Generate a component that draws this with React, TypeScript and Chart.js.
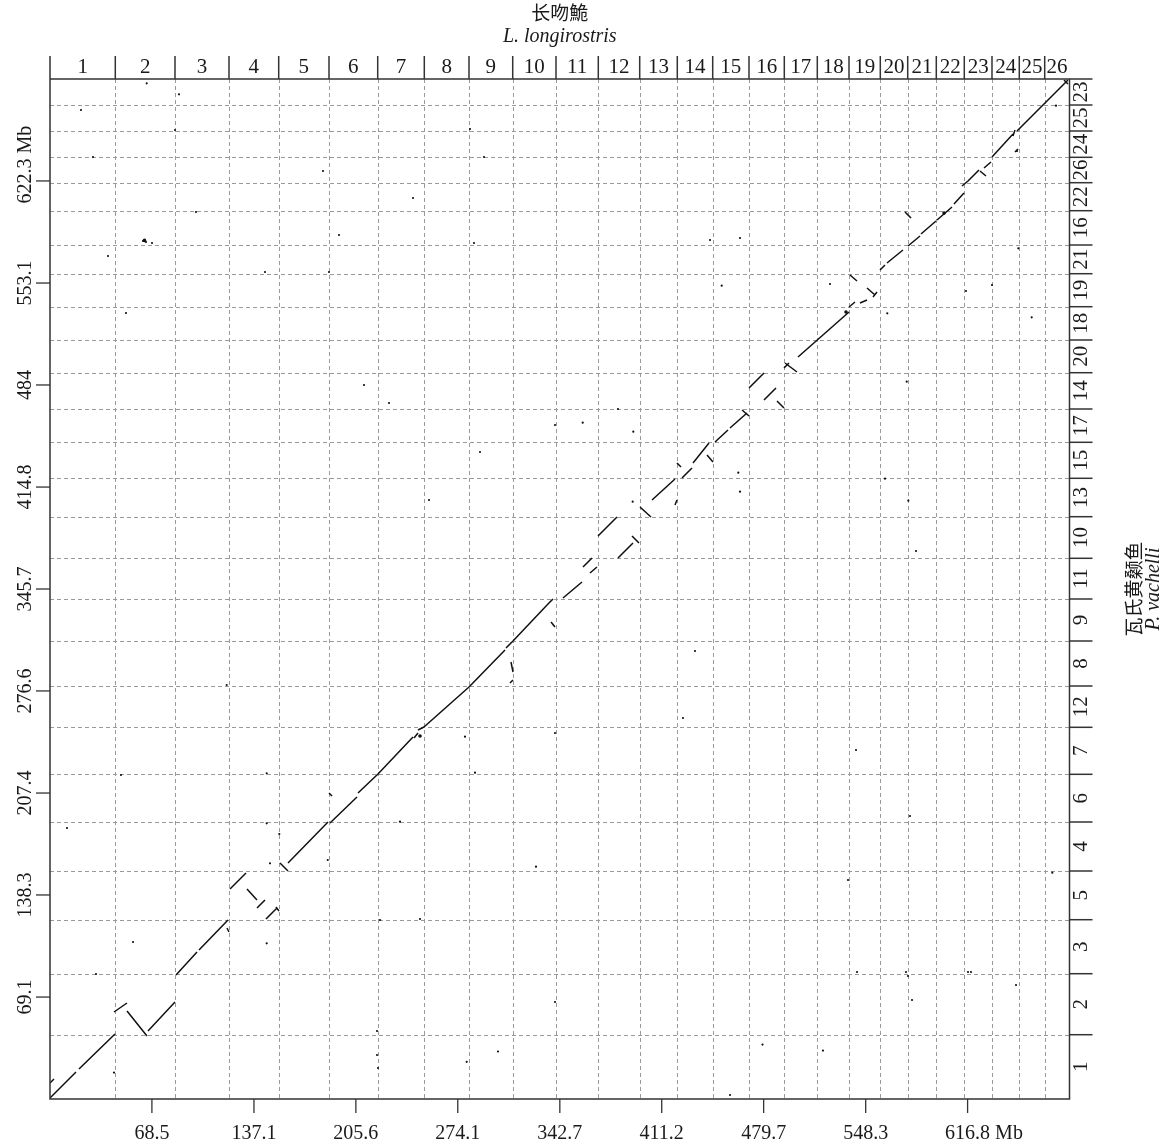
import React, { useEffect, useRef } from "react";
import { Chart, registerables } from "chart.js";

Chart.register(...registerables);

// ---- axis totals (Mb) ----
const X_TOTAL = 685.3;
const Y_TOTAL = 691.4;

// ---- L. longirostris chromosomes (x, top axis) ----
const xChromNames = ["1","2","3","4","5","6","7","8","9","10","11","12","13","14","15","16","17","18","19","20","21","22","23","24","25","26"];
const xChromBounds = [0, 43.89, 84.02, 120.32, 153.73, 187.54, 220.28, 251.6, 281.65, 311.03, 340.13, 368.56, 396.39, 421.66, 445.46, 469.86, 493.59, 515.77, 537.08, 558.12, 576.54, 595.76, 614.58, 633.2, 651.55, 668.63, 685.3];

// ---- P. vachelli chromosomes (y, right axis, bottom to top) ----
const yChromNames = ["1","2","3","5","4","6","7","12","8","9","11","10","13","15","17","14","20","18","19","21","16","22","26","24","25","23"];
const yChromBounds = [0, 43.58, 84.93, 121.54, 154.55, 187.76, 220.09, 251.95, 279.95, 310.45, 338.92, 366.51, 394.71, 420.74, 445.14, 467.71, 492.31, 514.48, 537.05, 559.42, 578.88, 602.13, 621.11, 638.32, 656.15, 673.77, 691.4];

// ---- position ticks (Mb) ----
const xTicks = [68.5, 137.1, 205.6, 274.1, 342.7, 411.2, 479.7, 548.3, 616.8];
const xTickLabels = ["68.5", "137.1", "205.6", "274.1", "342.7", "411.2", "479.7", "548.3", "616.8"];
const yTicks = [69.1, 138.3, 207.4, 276.6, 345.7, 414.8, 484.0, 553.1, 622.3];
const yTickLabels = ["69.1", "138.3", "207.4", "276.6", "345.7", "414.8", "484", "553.1", "622.3"];

// ---- syntenic blocks: [x1, y1, x2, y2] in Mb ----
const blocks: number[][] = [
  [0, 0.68, 17.48, 18.3],
  [19.49, 20.34, 43.69, 44.06],
  [0, 10.85, 2.69, 13.56],
  [43.02, 58.97, 51.76, 65.07],
  [51.76, 59.65, 65.2, 42.7],
  [65.87, 46.09, 84.02, 65.75],
  [84.7, 84.05, 98.81, 99.64],
  [100.16, 101.0, 119.65, 121.33],
  [118.98, 115.91, 120.32, 113.2],
  [121.0, 142.35, 131.75, 153.19],
  [132.42, 142.35, 139.14, 134.89],
  [139.14, 129.47, 144.52, 134.89],
  [145.19, 122.01, 152.59, 129.47],
  [151.91, 130.15, 153.93, 127.43],
  [154.6, 159.97, 159.98, 154.55],
  [159.98, 159.97, 186.87, 187.76],
  [187.54, 207.42, 189.56, 205.39],
  [188.21, 187.08, 206.36, 204.71],
  [207.03, 207.42, 220.48, 220.3],
  [220.48, 220.3, 244.0, 245.38],
  [244.68, 244.7, 247.37, 248.09],
  [247.37, 250.12, 251.4, 252.16],
  [251.4, 252.16, 281.65, 279.27],
  [281.65, 279.27, 305.85, 304.35],
  [306.52, 305.71, 311.22, 310.45],
  [309.21, 281.98, 311.22, 284.02],
  [309.88, 296.22, 311.22, 289.44],
  [311.22, 310.45, 334.75, 335.53],
  [334.75, 335.53, 338.11, 338.92],
  [336.77, 323.33, 339.45, 319.94],
  [344.83, 339.6, 357.61, 350.44],
  [358.28, 360.61, 364.33, 366.71],
  [362.98, 356.54, 367.69, 360.61],
  [368.36, 381.62, 381.13, 394.5],
  [381.8, 366.71, 391.89, 376.88],
  [391.21, 381.62, 395.92, 376.88],
  [396.59, 401.28, 403.99, 394.5],
  [404.66, 406.03, 420.12, 420.26],
  [420.12, 402.64, 421.46, 406.03],
  [424.82, 420.94, 431.55, 427.72],
  [432.22, 431.11, 442.97, 444.66],
  [421.46, 431.11, 424.15, 428.4],
  [441.63, 436.53, 445.66, 431.78],
  [447.01, 445.34, 455.74, 453.48],
  [457.09, 454.83, 468.52, 465.0],
  [465.16, 467.03, 469.86, 462.97],
  [469.86, 481.94, 479.94, 492.11],
  [479.94, 473.81, 488.01, 481.94],
  [488.68, 473.13, 493.38, 468.39],
  [494.06, 498.89, 502.13, 492.79],
  [493.38, 495.5, 496.75, 498.89],
  [502.8, 502.96, 537.08, 533.46],
  [537.08, 536.85, 541.12, 540.24],
  [544.47, 539.56, 549.18, 541.59],
  [549.18, 549.73, 554.55, 544.98],
  [553.21, 543.63, 555.9, 547.02],
  [537.75, 558.54, 542.46, 554.47],
  [557.92, 561.93, 561.28, 565.32],
  [562.62, 566.67, 573.37, 575.49],
  [576.74, 578.2, 584.81, 584.98],
  [585.48, 586.33, 595.56, 595.14],
  [574.72, 601.24, 578.76, 597.18],
  [596.23, 595.82, 606.32, 604.63],
  [607.66, 606.67, 614.37, 614.12],
  [613.04, 618.87, 617.07, 622.26],
  [617.07, 622.26, 624.46, 629.71],
  [625.13, 629.04, 629.17, 625.65],
  [627.83, 631.07, 632.53, 635.14],
  [633.2, 638.53, 647.32, 654.12],
  [647.32, 652.76, 648.66, 656.83],
  [648.66, 641.92, 650.68, 643.95],
  [650.01, 656.15, 684.28, 690.72],
  [681.6, 690.72, 684.28, 688.01],
];

// ---- scattered hits: [x, y] in Mb ----
const hits: number[][] = [
  [65.0, 688.5], [86.71, 681.0], [145.66, 220.77], [145.66, 186.88], [147.88, 159.77],
  [145.66, 105.54], [154.13, 179.63], [186.67, 162.0], [235.27, 187.97], [221.82, 121.33],
  [248.71, 122.01], [278.96, 245.58], [285.68, 221.18], [326.68, 157.46], [339.46, 248.09],
  [118.78, 280.63], [451.51, 551.29], [524.31, 552.44], [562.83, 532.58], [358.08, 458.42],
  [392.09, 452.32], [462.67, 424.53], [463.81, 411.65], [391.68, 404.87], [561.28, 420.46],
  [576.95, 405.55], [582.12, 371.46], [575.87, 486.21], [381.8, 467.71], [673.74, 153.4],
  [649.34, 77.27], [676.22, 673.3], [659.89, 529.87], [650.89, 576.64], [301.14, 32.2],
  [280.1, 25.22], [43.02, 17.9], [478.94, 36.87], [519.6, 32.81], [457.09, 2.71],
  [20.84, 670.38], [84.02, 656.83], [28.9, 638.53], [38.99, 571.42], [62.51, 581.59],
  [64.53, 580.91], [68.56, 580.23], [51.09, 532.78], [98.14, 601.24], [144.52, 560.57],
  [187.54, 560.57], [183.51, 629.04], [244.0, 610.73], [194.26, 585.65], [285.01, 580.23],
  [291.73, 638.53], [282.32, 657.5], [227.87, 471.78], [211.07, 483.98], [254.76, 406.03],
  [289.04, 438.56], [339.46, 456.86], [443.65, 582.26], [463.81, 583.62], [615.73, 547.7],
  [633.2, 551.76], [433.56, 303.67], [425.5, 258.26], [541.79, 236.57], [578.08, 191.83],
  [536.41, 148.45], [542.46, 86.09], [575.39, 86.09], [576.74, 83.37], [579.43, 67.11],
  [617.07, 86.09], [619.09, 86.09], [339.46, 65.75], [219.81, 46.09], [30.92, 84.73],
  [55.79, 106.42], [11.43, 183.69], [47.73, 219.62], [219.81, 29.82], [220.48, 21.01],
  [650.0, 642.59],
];

// larger hits
const bigHits: number[][] = [
  [535.06, 533.46], [248.71, 246.06], [63.5, 582.0], [601.0, 600.5],
];

const SERIF = "'Liberation Serif', 'DejaVu Serif', serif";
const CJK = "'Noto Sans CJK SC', 'Noto Sans CJK JP', sans-serif";

const framePlugin = {
  id: "frame",
  beforeDatasetsDraw(chart: any) {
    const { ctx, chartArea: a } = chart;
    const xs = chart.scales.x;
    const ys = chart.scales.y;
    ctx.save();
    ctx.strokeStyle = "#9a9a9a";
    ctx.lineWidth = 1;
    ctx.setLineDash([4, 3]);
    for (let i = 1; i < xChromBounds.length - 1; i++) {
      const px = Math.round(xs.getPixelForValue(xChromBounds[i])) + 0.5;
      ctx.beginPath();
      ctx.moveTo(px, a.top);
      ctx.lineTo(px, a.bottom);
      ctx.stroke();
    }
    for (let i = 1; i < yChromBounds.length - 1; i++) {
      const py = Math.round(ys.getPixelForValue(yChromBounds[i])) + 0.5;
      ctx.beginPath();
      ctx.moveTo(a.left, py);
      ctx.lineTo(a.right, py);
      ctx.stroke();
    }
    ctx.restore();
  },
  afterDatasetsDraw(chart: any) {
    const { ctx, chartArea: a } = chart;
    const xs = chart.scales.x;
    const ys = chart.scales.y;
    const sep = 23;
    ctx.save();
    ctx.setLineDash([]);
    ctx.strokeStyle = "#333";
    ctx.lineWidth = 1.5;
    // frame
    ctx.beginPath();
    ctx.moveTo(a.left, a.top - sep);
    ctx.lineTo(a.left, a.bottom);
    ctx.lineTo(a.right, a.bottom);
    ctx.lineTo(a.right, a.top);
    ctx.moveTo(a.left, a.top);
    ctx.lineTo(a.right + sep, a.top);
    ctx.stroke();

    ctx.fillStyle = "#1a1a1a";
    // top chromosome separators and names
    ctx.font = `21px ${SERIF}`;
    ctx.textAlign = "center";
    ctx.textBaseline = "middle";
    for (let i = 0; i < xChromNames.length; i++) {
      const p0 = xs.getPixelForValue(xChromBounds[i]);
      const p1 = xs.getPixelForValue(xChromBounds[i + 1]);
      if (i > 0) {
        ctx.beginPath();
        ctx.moveTo(p0, a.top);
        ctx.lineTo(p0, a.top - sep);
        ctx.stroke();
      }
      ctx.fillText(xChromNames[i], (p0 + p1) / 2, a.top - 12);
    }
    // right chromosome separators and names
    for (let i = 0; i < yChromNames.length; i++) {
      const p0 = ys.getPixelForValue(yChromBounds[i]);
      const p1 = ys.getPixelForValue(yChromBounds[i + 1]);
      if (i > 0) {
        ctx.beginPath();
        ctx.moveTo(a.right, p0);
        ctx.lineTo(a.right + sep, p0);
        ctx.stroke();
      }
      ctx.save();
      ctx.translate(a.right + 12, (p0 + p1) / 2);
      ctx.rotate(-Math.PI / 2);
      ctx.fillText(yChromNames[i], 0, 0);
      ctx.restore();
    }
    // bottom ticks
    ctx.lineWidth = 1.3;
    ctx.font = `20px ${SERIF}`;
    for (let i = 0; i < xTicks.length; i++) {
      const px = xs.getPixelForValue(xTicks[i]);
      ctx.beginPath();
      ctx.moveTo(px, a.bottom);
      ctx.lineTo(px, a.bottom + 14);
      ctx.stroke();
      ctx.textAlign = "center";
      ctx.fillText(xTickLabels[i], px, a.bottom + 35);
      if (i === xTicks.length - 1) {
        const w = ctx.measureText(xTickLabels[i]).width;
        ctx.textAlign = "left";
        ctx.fillText(" Mb", px + w / 2, a.bottom + 35);
      }
    }
    // left ticks
    for (let i = 0; i < yTicks.length; i++) {
      const py = ys.getPixelForValue(yTicks[i]);
      ctx.beginPath();
      ctx.moveTo(a.left, py);
      ctx.lineTo(a.left - 14, py);
      ctx.stroke();
      ctx.save();
      ctx.translate(a.left - 24, py);
      ctx.rotate(-Math.PI / 2);
      ctx.textAlign = "center";
      ctx.fillText(yTickLabels[i], 0, 0);
      if (i === yTicks.length - 1) {
        const w = ctx.measureText(yTickLabels[i]).width;
        ctx.textAlign = "left";
        ctx.fillText(" Mb", w / 2, 0);
      }
      ctx.restore();
    }
    // titles
    const cx = (a.left + a.right) / 2;
    ctx.textAlign = "center";
    ctx.font = `19px ${CJK}`;
    ctx.fillText("长吻鮠", cx, 13);
    ctx.font = `italic 20px ${SERIF}`;
    ctx.fillText("L. longirostris", cx, 37);
    const cy = (a.top + a.bottom) / 2;
    ctx.save();
    ctx.translate(1134, cy);
    ctx.rotate(-Math.PI / 2);
    ctx.font = `19px ${CJK}`;
    ctx.fillText("瓦氏黄颡鱼", 0, 0);
    ctx.restore();
    ctx.save();
    ctx.translate(1154, cy);
    ctx.rotate(-Math.PI / 2);
    ctx.font = `italic 20px ${SERIF}`;
    ctx.fillText("P. vachelli", 0, 0);
    ctx.restore();
    ctx.restore();
  },
};

export default function App() {
  const ref = useRef<HTMLCanvasElement | null>(null);
  useEffect(() => {
    if (!ref.current) return;
    const lineData: any[] = [];
    blocks.forEach((b) => {
      lineData.push({ x: b[0], y: b[1] });
      lineData.push({ x: b[2], y: b[3] });
      lineData.push({ x: b[2], y: null });
    });
    const chart = new Chart(ref.current, {
      type: "scatter",
      data: {
        datasets: [
          {
            type: "line",
            data: lineData,
            borderColor: "#111",
            borderWidth: 1.5,
            pointRadius: 0,
            tension: 0,
            spanGaps: false,
            fill: false,
          } as any,
          {
            data: hits.map((h) => ({ x: h[0], y: h[1] })),
            backgroundColor: "#111",
            borderWidth: 0,
            pointRadius: 1.1,
          },
          {
            data: bigHits.map((h) => ({ x: h[0], y: h[1] })),
            backgroundColor: "#111",
            borderWidth: 0,
            pointRadius: 1.8,
          },
        ],
      },
      options: {
        responsive: false,
        animation: false,
        layout: { padding: { left: 50, top: 79, right: 103.5, bottom: 49 } },
        scales: {
          x: { type: "linear", min: 0, max: X_TOTAL, display: false },
          y: { type: "linear", min: 0, max: Y_TOTAL, display: false },
        },
        plugins: { legend: { display: false }, tooltip: { enabled: false } },
        events: [],
      },
      plugins: [framePlugin],
    });
    return () => chart.destroy();
  }, []);
  return (
    <div style={{ position: "absolute", left: 0, top: 0, width: 1173, height: 1148, background: "#fff" }}>
      <canvas ref={ref} width={1173} height={1148} style={{ display: "block" }} />
    </div>
  );
}
